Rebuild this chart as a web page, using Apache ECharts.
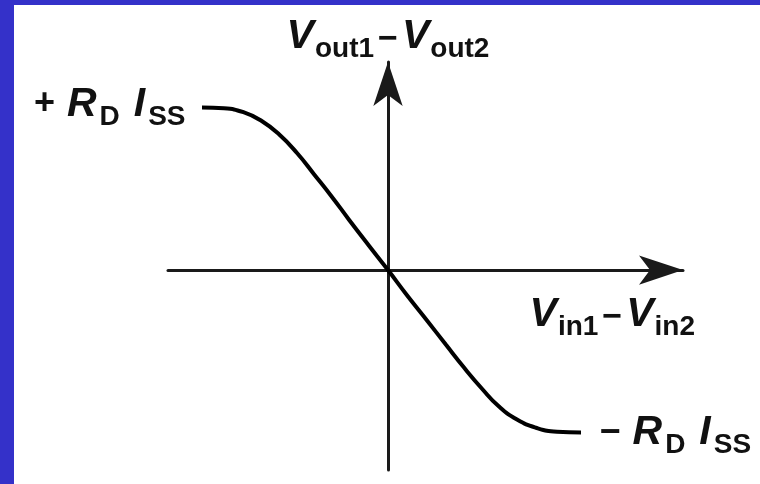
<!DOCTYPE html>
<html>
<head>
<meta charset="utf-8">
<script src="https://cdn.jsdelivr.net/npm/echarts@6/dist/echarts.min.js"></script>
<style>
  html, body { margin: 0; padding: 0; background: #ffffff; }
  #chart { width: 760px; height: 484px; }
</style>
</head>
<body>
<div id="chart"></div>
<script>
// Differential pair transfer curve: Vout1 - Vout2 versus Vin1 - Vin2
// x: differential input (arbitrary units), y: differential output in units of RD*ISS
const vinDiff = [-1.86, -1.64, -1.44, -1.27, -1.09, -0.91, -0.74, -0.56, -0.39, -0.19, 0,
                 0.19, 0.39, 0.58, 0.76, 0.94, 1.11, 1.29, 1.48, 1.69, 1.93];
const voutDiff = [1.00, 0.995, 0.97, 0.92, 0.835, 0.72, 0.59, 0.45, 0.31, 0.15, 0,
                  -0.155, -0.31, -0.46, -0.60, -0.73, -0.84, -0.92, -0.97, -0.995, -1.00];

const xAxisTitle = '{v|V}{t|in1}{m|−}{v|V}{t|in2}';
const yAxisTitle = '{v|V}{t|out1}{m|−}{v|V}{t|out2}';
const upperLevel = '{p|+}{r|R}{s|D}{i|I}{s|SS}';
const lowerLevel = '{p|−}{r|R}{s|D}{i|I}{s|SS}';

const FONT = '"Liberation Sans", Arial, sans-serif';
const rich = {
  v: { fontFamily: FONT, fontSize: 41, fontWeight: 'bold', fontStyle: 'italic', color: '#111', lineHeight: 40, verticalAlign: 'top' },
  r: { fontFamily: FONT, fontSize: 41, fontWeight: 'bold', fontStyle: 'italic', color: '#111', lineHeight: 40, verticalAlign: 'top', padding: [0, 0, 0, 12] },
  i: { fontFamily: FONT, fontSize: 41, fontWeight: 'bold', fontStyle: 'italic', color: '#111', lineHeight: 40, verticalAlign: 'top', padding: [0, 0, 0, 14] },
  s: { fontFamily: FONT, fontSize: 28, fontWeight: 'bold', color: '#111', lineHeight: 28, padding: [26, 0, 0, 3] },
  t: { fontFamily: FONT, fontSize: 28, fontWeight: 'bold', color: '#111', lineHeight: 28, padding: [26, 0, 0, 1] },
  m: { fontFamily: FONT, fontSize: 34, fontWeight: 'bold', color: '#111', lineHeight: 30, padding: [8, 4, 0, 4] },
  p: { fontFamily: FONT, fontSize: 36, fontWeight: 'bold', color: '#111', lineHeight: 30, padding: [0, 0, 0, 0] }
};

const points = vinDiff.map((x, i) => {
  const item = { value: [x, voutDiff[i]] };
  if (i === 0) {
    item.label = { show: true, position: 'left', distance: 16, offset: [0, -3], formatter: upperLevel, rich: rich };
  } else if (i === vinDiff.length - 1) {
    item.label = { show: true, position: 'right', distance: 18, offset: [0, 0], formatter: lowerLevel, rich: rich };
  }
  return item;
});

const axisLine = {
  show: true,
  onZero: true,
  symbol: ['none', 'arrow'],
  symbolSize: [22, 44],
  lineStyle: { color: '#1a1a1a', width: 3 }
};

const chart = echarts.init(document.getElementById('chart'), null, { renderer: 'canvas' });
chart.setOption({
  backgroundColor: '#ffffff',
  animation: false,
  grid: { left: 168, right: 77, top: 62, bottom: 14, containLabel: false, outerBoundsMode: 'none' },
  xAxis: {
    type: 'value', min: -2.2, max: 2.95,
    axisLine: axisLine,
    axisTick: { show: false }, axisLabel: { show: false }, splitLine: { show: false },
    name: xAxisTitle, nameLocation: 'end', nameGap: 12,
    nameTextStyle: { align: 'right', verticalAlign: 'top', padding: [24, 0, 0, 0], rich: rich }
  },
  yAxis: {
    type: 'value', min: -1.23, max: 1.28,
    axisLine: axisLine,
    axisTick: { show: false }, axisLabel: { show: false }, splitLine: { show: false },
    name: yAxisTitle, nameLocation: 'end', nameGap: 6,
    nameTextStyle: { align: 'center', verticalAlign: 'bottom', rich: rich }
  },
  series: [{
    type: 'line',
    data: points,
    smooth: 0.5,
    showSymbol: true,
    symbol: 'circle',
    symbolSize: 1,
    itemStyle: { color: 'rgba(0,0,0,0)' },
    lineStyle: { color: '#000000', width: 4 },
    z: 3
  }],
  graphic: [
    { type: 'rect', left: 0, top: 0, shape: { width: 14, height: 484 }, style: { fill: '#3431c9' }, z: 100 },
    { type: 'rect', left: 0, top: 0, shape: { width: 760, height: 5 }, style: { fill: '#3431c9' }, z: 100 }
  ]
});
</script>
</body>
</html>
